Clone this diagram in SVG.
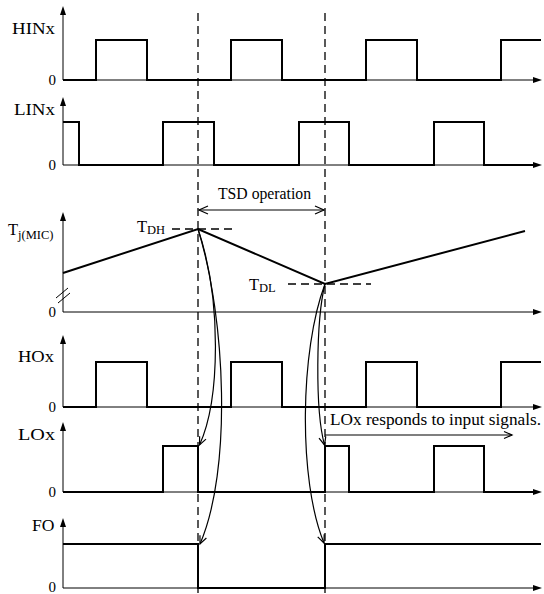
<svg xmlns="http://www.w3.org/2000/svg" width="544" height="594" viewBox="0 0 544 594">
<style>
  .ax{stroke:#000;stroke-width:1;fill:none}
  .wv{stroke:#000;stroke-width:2;fill:none;stroke-linejoin:miter}
  .dash{stroke:#000;stroke-width:1.3;fill:none;stroke-dasharray:8,5}
  .cv{stroke:#000;stroke-width:1.2;fill:none}
  .lbl{font-family:"Liberation Serif","Times New Roman",serif;font-size:16.5px;fill:#000}
  .zero{font-family:"Liberation Serif","Times New Roman",serif;font-size:15px;fill:#000;text-anchor:end}
  .sub{font-size:12.5px}
</style>
<defs>
  <marker id="ah" viewBox="-10 -5 12 10" refX="0" refY="0" markerWidth="12" markerHeight="10" markerUnits="userSpaceOnUse" orient="auto">
    <polyline points="-8,-3.5 0,0 -8,3.5" fill="none" stroke="#000" stroke-width="1.2"/>
  </marker>
  <marker id="ahs" viewBox="-10 -5 12 10" refX="0" refY="0" markerWidth="12" markerHeight="10" markerUnits="userSpaceOnUse" orient="auto-start-reverse">
    <polyline points="-9,-4 0,0 -9,4" fill="none" stroke="#000" stroke-width="1.2"/>
  </marker>
  <path id="upA" d="M0,0 L-3,9 L3,9 Z" fill="#000"/>
  <path id="rtA" d="M0,0 L-9,-3 L-9,3 Z" fill="#000"/>
</defs>

<g id="guides">
  <line class="dash" x1="198" y1="13" x2="198" y2="594"/>
  <line class="dash" x1="325" y1="13" x2="325" y2="594"/>
</g>

<g id="hinx">
  <line class="ax" x1="63" y1="80" x2="63" y2="12"/>
  <use href="#upA" x="63" y="6"/>
  <line class="ax" x1="63" y1="80" x2="535" y2="80"/>
  <use href="#rtA" x="542" y="80"/>
  <polyline class="wv" points="63,80 96,80 96,40 147,40 147,80 231,80 231,40 282,40 282,80 366,80 366,40 417,40 417,80 501,80 501,40 541,40"/>
  <text class="lbl" x="12" y="33.5" textLength="43" lengthAdjust="spacingAndGlyphs">HINx</text>
  <text class="zero" x="56" y="85">0</text>
</g>

<g id="linx">
  <line class="ax" x1="63" y1="165" x2="63" y2="103"/>
  <use href="#upA" x="63" y="97"/>
  <line class="ax" x1="63" y1="165" x2="535" y2="165"/>
  <use href="#rtA" x="542" y="165"/>
  <polyline class="wv" points="63,122 79,122 79,165 163,165 163,122 214,122 214,165 299,165 299,122 349,122 349,165 434,165 434,122 484,122 484,165 535,165"/>
  <text class="lbl" x="14" y="115" textLength="41" lengthAdjust="spacingAndGlyphs">LINx</text>
  <text class="zero" x="56" y="170">0</text>
</g>

<g id="tj">
  <line class="ax" x1="63" y1="312" x2="63" y2="218"/>
  <use href="#upA" x="63" y="212"/>
  <line class="ax" x1="63" y1="312" x2="535" y2="312"/>
  <use href="#rtA" x="542" y="312"/>
  <line class="ax" x1="56" y1="298" x2="68" y2="288"/>
  <line class="ax" x1="58" y1="303" x2="70" y2="293"/>
  <polyline class="wv" points="63,273 198,229 325,284 525,231"/>
  <line class="dash" x1="172" y1="229" x2="232" y2="229"/>
  <line class="dash" x1="288" y1="284" x2="371" y2="284"/>
  <text class="lbl" x="8" y="235">T<tspan class="sub" dy="3.5">j(MIC)</tspan></text>
  <text class="lbl" x="137" y="232">T<tspan class="sub" dy="1.5">DH</tspan></text>
  <text class="lbl" x="249" y="290">T<tspan class="sub" dy="1.5">DL</tspan></text>
  <text class="zero" x="56" y="317">0</text>
</g>

<g id="hox">
  <line class="ax" x1="63" y1="407" x2="63" y2="341"/>
  <use href="#upA" x="63" y="335"/>
  <line class="ax" x1="63" y1="407" x2="535" y2="407"/>
  <use href="#rtA" x="542" y="407"/>
  <polyline class="wv" points="63,407 96,407 96,362 147,362 147,407 231,407 231,362 282,362 282,407 366,407 366,362 417,362 417,407 501,407 501,362 541,362"/>
  <text class="lbl" x="18" y="362" textLength="36" lengthAdjust="spacingAndGlyphs">HOx</text>
  <text class="zero" x="56" y="412">0</text>
</g>

<g id="lox">
  <line class="ax" x1="63" y1="492" x2="63" y2="428"/>
  <use href="#upA" x="63" y="422"/>
  <line class="ax" x1="63" y1="492" x2="535" y2="492"/>
  <use href="#rtA" x="542" y="492"/>
  <polyline class="wv" points="63,492 163,492 163,446 198,446 198,492 325,492 325,446 349,446 349,492 434,492 434,446 484,446 484,492 535,492"/>
  <text class="lbl" x="18" y="440" textLength="37" lengthAdjust="spacingAndGlyphs">LOx</text>
  <text class="zero" x="56" y="497">0</text>
</g>

<g id="fo">
  <line class="ax" x1="63" y1="588" x2="63" y2="524"/>
  <use href="#upA" x="63" y="518"/>
  <line class="ax" x1="63" y1="588" x2="535" y2="588"/>
  <use href="#rtA" x="542" y="588"/>
  <polyline class="wv" points="63,544 198,544 198,588 325,588 325,544 541,544"/>
  <text class="lbl" x="32" y="531" textLength="22.5" lengthAdjust="spacingAndGlyphs">FO</text>
  <text class="zero" x="56" y="591.5">0</text>
</g>

<g id="tsd">
  <text class="lbl" x="218" y="199" style="font-size:16px" textLength="93" lengthAdjust="spacingAndGlyphs">TSD operation</text>
</g>

<g id="lox-note">
  <text class="lbl" x="330" y="425" style="font-size:17px" textLength="211" lengthAdjust="spacingAndGlyphs">LOx responds to input signals.</text>
</g>

<g id="connectors">
  <line class="cv" x1="199" y1="210" x2="324" y2="210" marker-start="url(#ahs)" marker-end="url(#ahs)"/>
  <line class="cv" x1="325" y1="435" x2="512" y2="435" marker-end="url(#ah)"/>
  <path class="cv" d="M198,229 C222,300 220,400 199.5,445" marker-end="url(#ah)"/>
  <path class="cv" d="M198,229 C226,320 232,470 200,544" marker-end="url(#ah)"/>
  <path class="cv" d="M325,284 C316,320 315,410 324.5,445" marker-end="url(#ah)"/>
  <path class="cv" d="M325,284 C300,350 298,480 324,543" marker-end="url(#ah)"/>
</g>
</svg>
